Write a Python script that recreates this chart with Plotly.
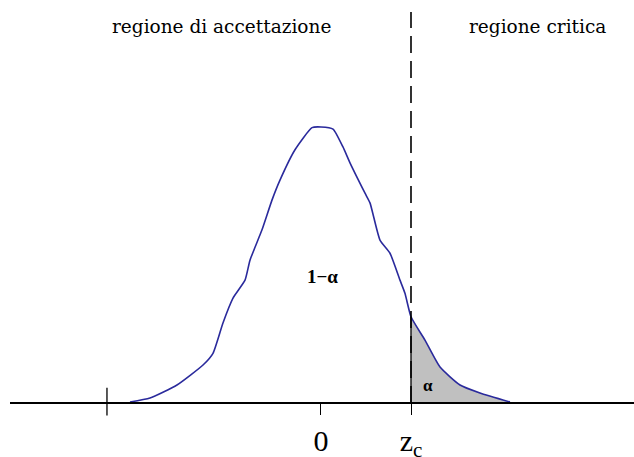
import plotly.graph_objects as go

# curve (z units, density-like height)
curve_x = [-3.293, -2.948, -2.483, -2.034, -1.862, -1.690, -1.517, -1.310, -1.224, -1.017,
           -0.845, -0.707, -0.448, -0.155, 0.0, 0.207, 0.379, 0.500, 0.759, 0.845,
           1.017, 1.190, 1.362, 1.448, 1.552, 1.793, 2.052, 2.397, 2.741, 3.259]
curve_y = [0.0014, 0.0072, 0.026, 0.055, 0.072, 0.116, 0.152, 0.178, 0.207, 0.251,
           0.294, 0.323, 0.367, 0.399, 0.400, 0.397, 0.371, 0.348, 0.304, 0.290,
           0.236, 0.217, 0.178, 0.159, 0.125, 0.091, 0.052, 0.026, 0.0145, 0.0014]
z_c = 1.552
left_mark = -3.69
tick_vals = [0, z_c]
tick_text = ["0", "z<sub>c</sub>"]

SERIF = "Liberation Serif, Times New Roman, serif"
WIDE_SERIF = "DejaVu Serif, serif"

i_c = curve_x.index(z_c)
tail_x = curve_x[i_c:]
tail_y = curve_y[i_c:]

fig = go.Figure()
fig.add_trace(go.Scatter(x=tail_x, y=tail_y, mode="lines", fill="tozeroy",
                         fillcolor="#c0c0c0", line=dict(width=0, shape="spline", smoothing=0.5),
                         hoverinfo="skip"))
fig.add_trace(go.Scatter(x=curve_x, y=curve_y, mode="lines",
                         line=dict(color="#2a2a9c", width=1.6, shape="spline", smoothing=0.5)))
fig.add_trace(go.Scatter(x=[z_c, z_c], y=[0, curve_y[i_c]], mode="lines",
                         line=dict(color="black", width=1.3)))

fig.add_shape(type="line", xref="x", yref="paper", x0=z_c, x1=z_c, y0=0.118, y1=0.974,
              line=dict(color="black", width=1.6, dash="17px,8px"))
fig.add_shape(type="line", xref="x", yref="y", x0=left_mark, x1=left_mark, y0=-0.018, y1=0.022,
              line=dict(color="black", width=1.3))

fig.add_annotation(x=-1.71, y=0.545, xref="x", yref="y", text="regione di accettazione",
                   showarrow=False, font=dict(family=WIDE_SERIF, size=18.5, color="black"))
fig.add_annotation(x=3.74, y=0.545, xref="x", yref="y", text="regione critica",
                   showarrow=False, font=dict(family=WIDE_SERIF, size=18.5, color="black"))
fig.add_annotation(x=0.02, y=0.183, xref="x", yref="y", text="<b>1−α</b>",
                   showarrow=False, font=dict(family=SERIF, size=19, color="black"))
fig.add_annotation(x=1.845, y=0.026, xref="x", yref="y", text="<b>α</b>",
                   showarrow=False, font=dict(family=SERIF, size=17, color="black"))

fig.update_layout(
    width=634, height=457, margin=dict(l=10, r=0, t=0, b=0),
    paper_bgcolor="white", plot_bgcolor="white", showlegend=False,
    xaxis=dict(range=[-5.362, 5.397], anchor="free", position=0.1182, automargin=False,
               showline=True, linecolor="black", linewidth=1.5,
               showgrid=False, zeroline=False,
               ticks="outside", ticklen=11, tickwidth=1.3, tickcolor="black",
               tickvals=tick_vals, ticktext=tick_text,
               tickfont=dict(family=SERIF, size=30, color="black")),
    yaxis=dict(range=[-0.0783, 0.584], visible=False, automargin=False),
)
fig.write_html("out.html", config={"displayModeBar": False},
               post_script="document.body.style.margin='0';document.body.style.overflow='hidden';")
